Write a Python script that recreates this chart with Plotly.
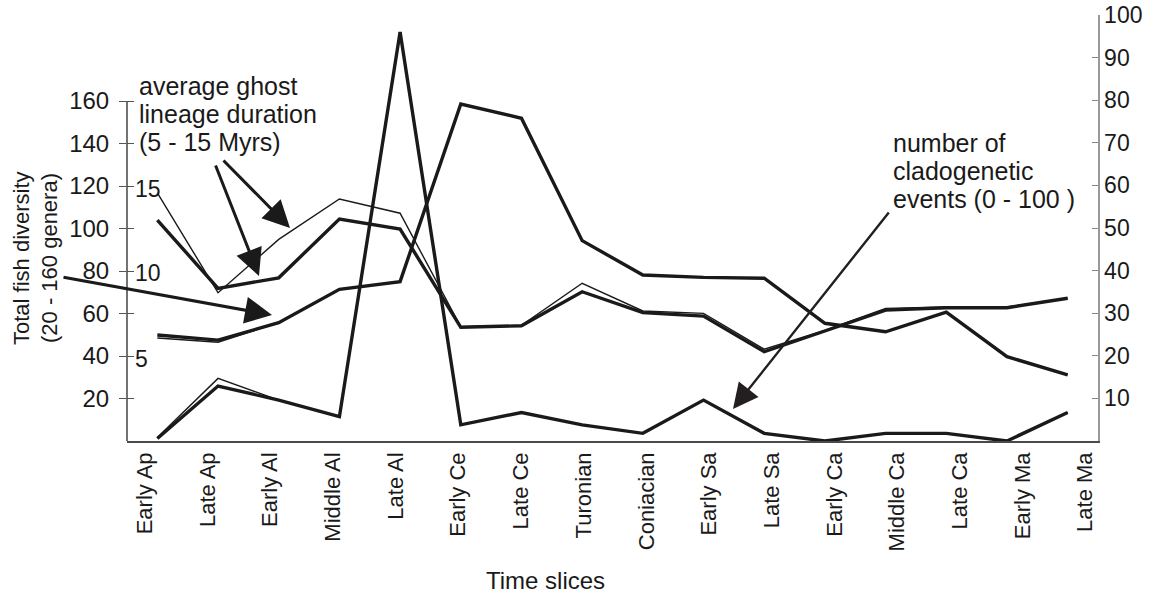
import plotly.graph_objects as go

categories = ["Early Ap", "Late Ap", "Early Al", "Middle Al", "Late Al", "Early Ce",
              "Late Ce", "Turonian", "Coniacian", "Early Sa", "Late Sa", "Early Ca",
              "Middle Ca", "Late Ca", "Early Ma", "Late Ma"]

# Total fish diversity (genera, left axis)
fish_thick = [49.9, 47.5, 55.7, 71.4, 75.0, 158.6, 151.9, 94.3, 78.1, 77.0, 76.6,
              55.4, 51.4, 60.6, 39.7, 31.1]
fish_thin = [48.5, 46.5, 55.7, 71.4, 75.0, 158.6, 151.9, 94.3, 78.1, 77.0, 76.6,
             55.4, 51.4, 60.6, 39.7, 31.1]

# Average ghost lineage duration (Myrs, inner 5-15 scale)
ghost_thick = [13.0, 8.98, 9.6, 13.06, 12.47, 6.69, 6.78, 8.78, 7.55, 7.35, 5.25,
               6.47, 7.7, 7.84, 7.84, 8.4]
ghost_thin = [14.6, 8.72, 11.86, 14.24, 13.4, 6.72, 6.8, 9.28, 7.65, 7.51, 5.4,
              6.5, 7.8, 7.88, 7.88, 8.4]

# Number of cladogenetic events (right axis, 0-100)
clado_thick = [0.6, 12.9, 9.6, 5.7, 96.0, 3.8, 6.7, 3.8, 1.8, 9.6, 1.8,
               0.0, 1.8, 1.8, 0.0, 6.7]
clado_thin = [0.8, 14.7, 9.6, 5.7, 96.0, 3.8, 6.7, 3.8, 1.8, 9.6, 1.8,
              0.0, 1.8, 1.8, 0.0, 6.7]

left_ticks = [20, 40, 60, 80, 100, 120, 140, 160]
right_ticks = [10, 20, 30, 40, 50, 60, 70, 80, 90, 100]
ghost_labels = ["15", "10", "5"]
ghost_label_vals = [14.8, 9.9, 4.85]

W, H = 1157, 597
PL, PR, PT, PB = 127, 1098, 15, 441   # plot box in page pixels
ML, MT, MR, MB = PL, PT, W - PR, H - PB
PW, PH = PR - PL, PB - PT
LEFT_MAX = 200.5
FONT = "Liberation Sans, Arial, sans-serif"
INK = "#1a1a1a"

def px(x):
    return (x - PL) / PW

def py(y):
    return (PB - y) / PH

idx = list(range(len(categories)))
fig = go.Figure()

thin = dict(color=INK, width=1.4)
thick = dict(color=INK, width=3.4)

fig.add_trace(go.Scatter(x=idx, y=fish_thin, mode="lines", line=thin, yaxis="y4"))
fig.add_trace(go.Scatter(x=idx, y=fish_thick, mode="lines", line=thick, yaxis="y"))
fig.add_trace(go.Scatter(x=idx, y=ghost_thin, mode="lines", line=thin, yaxis="y3"))
fig.add_trace(go.Scatter(x=idx, y=ghost_thick, mode="lines", line=thick, yaxis="y3"))
fig.add_trace(go.Scatter(x=idx, y=clado_thin, mode="lines", line=thin, yaxis="y2"))
fig.add_trace(go.Scatter(x=idx, y=clado_thick, mode="lines", line=thick, yaxis="y2"))
# carrier for the category label axis
fig.add_trace(go.Scatter(x=idx, y=[None] * len(idx), mode="lines", xaxis="x2",
                         yaxis="y", hoverinfo="skip"))

lab_x0, lab_step = 145.0, 62.67
fig.update_layout(
    template="none",
    width=W, height=H, autosize=False,
    margin=dict(l=ML, r=MR, t=MT, b=MB, pad=0),
    paper_bgcolor="white", plot_bgcolor="white",
    showlegend=False,
    font=dict(family=FONT, color=INK, size=22),
    xaxis=dict(range=[-0.5, 15.5], showticklabels=False, ticks="", showgrid=False,
               zeroline=False, showline=True, linecolor="#4a4a4a", linewidth=2,
               automargin=False),
    xaxis2=dict(overlaying="x", anchor="y", side="bottom", automargin=False,
                range=[(PL - lab_x0) / lab_step, (PR - lab_x0) / lab_step],
                tickmode="array", tickvals=idx, ticktext=categories, tickangle=-90,
                ticks="", showgrid=False, zeroline=False, showline=False,
                tickfont=dict(size=22, family=FONT, color=INK), ticklabelstandoff=6),
    yaxis=dict(range=[0, LEFT_MAX], tickmode="array", tickvals=left_ticks,
               ticks="outside", ticklen=7, tickcolor="#555", tickwidth=1,
               showgrid=False, zeroline=False, showline=False, automargin=False,
               tickfont=dict(size=24, family=FONT, color=INK), ticklabelstandoff=5),
    yaxis4=dict(overlaying="y", side="left", range=[0, LEFT_MAX], tickmode="array",
                tickvals=left_ticks, ticks="inside", ticklen=7, tickcolor="#555",
                tickwidth=1, showticklabels=False, showgrid=False, zeroline=False,
                showline=False, automargin=False),
    yaxis2=dict(overlaying="y", side="right", range=[0, 100], tickmode="array",
                tickvals=right_ticks, ticks="inside", ticklen=6, tickcolor="#888",
                showgrid=False, zeroline=False, showline=True, linecolor="#999",
                linewidth=1.5, tickfont=dict(size=23, family=FONT, color=INK),
                ticklabelstandoff=0, ticklabeloverflow="allow", automargin=False),
    yaxis3=dict(overlaying="y", range=[0, LEFT_MAX / 8], visible=False),
)

# left axis line only up to 160
fig.add_shape(type="line", xref="x domain", x0=0, x1=0, yref="y", y0=0, y1=160,
              line=dict(color="#444", width=1.5))

ann = []
def txt(t, x, y, size=25, xanchor="left"):
    ann.append(dict(text=t, x=px(x), y=py(y), xref="paper", yref="paper",
                    xanchor=xanchor, yanchor="middle", showarrow=False,
                    font=dict(size=size, family=FONT, color=INK)))

txt("average ghost", 137, 86)
txt("lineage duration", 137, 114)
txt("(5 - 15 Myrs)", 137, 142)
txt("number of", 891, 143)
txt("cladogenetic", 891, 171)
txt("events (0 - 100 )", 891, 199)
txt("Time slices", 545, 580, size=24, xanchor="center")

for t, v in zip(ghost_labels, ghost_label_vals):
    ann.append(dict(text=t, x=px(133), y=v, xref="paper", yref="y3", xanchor="left",
                    yanchor="middle", showarrow=False,
                    font=dict(size=23, family=FONT, color=INK)))

# y title (two rotated lines)
for t, xc in [("Total fish diversity", 21), ("(20 - 160 genera)", 49)]:
    ann.append(dict(text=t, x=px(xc), y=py(258), xref="paper", yref="paper",
                    xanchor="center", yanchor="middle", textangle=-90,
                    showarrow=False, font=dict(size=22, family=FONT, color=INK)))

def arrow(tail, tip, width=3.0, size=1.8, color=INK):
    ann.append(dict(text="", x=px(tip[0]), y=py(tip[1]), xref="paper", yref="paper",
                    ax=tail[0] - tip[0], ay=tail[1] - tip[1], axref="pixel",
                    ayref="pixel", showarrow=True, arrowhead=2, arrowsize=size,
                    arrowwidth=width, arrowcolor=color, standoff=0, startstandoff=0))

arrow((62, 277), (272, 315))
arrow((215, 164), (259, 276))
arrow((222, 159), (290, 228))
arrow((890, 211), (733, 409), width=2.4, size=2.1, color="#231f20")

fig.update_layout(annotations=ann)
fig.write_html("out.html",
               config={"displayModeBar": False, "staticPlot": True},
               post_script="document.body.style.margin='0';"
                           "document.body.style.overflow='hidden';")
